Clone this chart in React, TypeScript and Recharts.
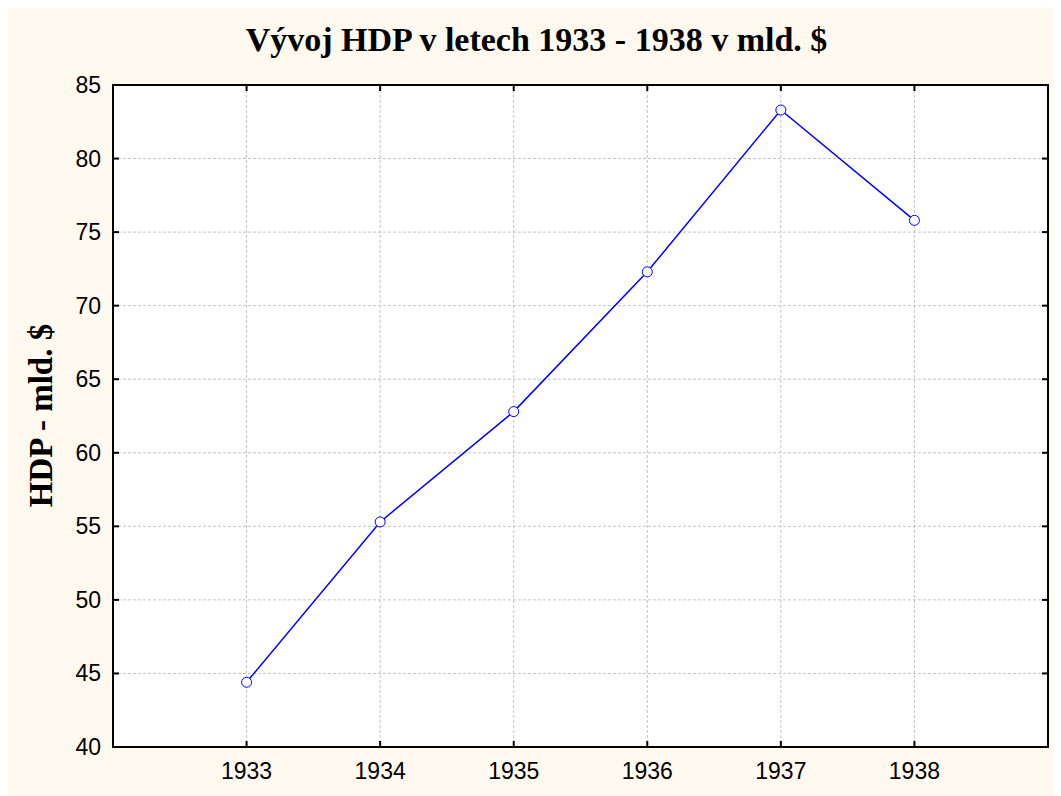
import React from 'react';
import {
  CartesianGrid,
  Line,
  LineChart,
  ReferenceArea,
  XAxis,
  YAxis,
} from 'recharts';

// roky a HDP v mld. $
const years = [1933, 1934, 1935, 1936, 1937, 1938];
const gdp = [44.4, 55.3, 62.8, 72.3, 83.3, 75.8];
const yTicks = [40, 45, 50, 55, 60, 65, 70, 75, 80, 85];
const xDomain = [1932, 1939];
const yDomain = [40, 85];

const chartTitle = 'Vývoj HDP v letech 1933 - 1938 v mld. $';
const yTitle = 'HDP - mld. $';

const data = years.map((year, i) => ({ year, gdp: gdp[i] }));

const W = 1047;
const H = 788;
const M = { top: 77, right: 7, bottom: 0, left: 0 };
const PLOT_TOP = M.top;
const PLOT_RIGHT = W - M.right;
const TICK = 6;

const sans = '"Liberation Sans", Arial, sans-serif';
const serif = '"Liberation Serif", "Times New Roman", serif';
const axisStyle = { stroke: '#000', strokeWidth: 2 };

// popisek na ose x + zrcadlová značka nahoře
const XTick = (props: any) => {
  const { x, y, payload } = props;
  return (
    <g>
      <line x1={x} x2={x} y1={PLOT_TOP} y2={PLOT_TOP + TICK} stroke='#000' strokeWidth={2} />
      <text x={x} y={y + 16} textAnchor='middle' fontFamily={sans} fontSize={23} fill='#000'>
        {payload.value}
      </text>
    </g>
  );
};

// popisek na ose y + zrcadlová značka vpravo
const YTick = (props: any) => {
  const { x, y, payload } = props;
  return (
    <g>
      <line x1={PLOT_RIGHT - TICK} x2={PLOT_RIGHT} y1={y} y2={y} stroke='#000' strokeWidth={2} />
      <text x={x} y={y + 8} textAnchor='end' fontFamily={sans} fontSize={23} fill='#000'>
        {payload.value}
      </text>
    </g>
  );
};

const App = () => {
  return (
    <div style={{ position: 'relative', width: W, height: H, background: '#FFF9EF' }}>
      <div
        style={{
          position: 'absolute',
          left: 0,
          top: 15,
          width: 1057,
          textAlign: 'center',
          fontFamily: serif,
          fontWeight: 'bold',
          fontSize: 34,
          lineHeight: '34px',
          whiteSpace: 'nowrap',
          zIndex: 1,
        }}
      >
        {chartTitle}
      </div>
      <div
        style={{
          position: 'absolute',
          left: -117,
          top: 390.5,
          width: 300,
          height: 33,
          textAlign: 'center',
          fontFamily: serif,
          fontWeight: 'bold',
          fontSize: 33,
          lineHeight: '33px',
          whiteSpace: 'nowrap',
          transform: 'rotate(-90deg)',
          transformOrigin: 'center',
          zIndex: 1,
        }}
      >
        {yTitle}
      </div>
      <LineChart width={W} height={H} data={data} margin={M}>
        <CartesianGrid
          stroke='#c4c4c4'
          strokeDasharray='3 2'
          fill='#ffffff'
          fillOpacity={1}
        />
        <XAxis
          dataKey='year'
          type='number'
          domain={xDomain}
          ticks={years}
          allowDataOverflow
          height={49}
          tick={<XTick />}
          tickSize={-TICK}
          tickMargin={22}
          axisLine={axisStyle}
          tickLine={axisStyle}
        />
        <YAxis
          domain={yDomain}
          ticks={yTicks}
          width={105}
          tick={<YTick />}
          tickSize={-TICK}
          tickMargin={18}
          axisLine={axisStyle}
          tickLine={axisStyle}
        />
        {/* rámeček kolem plochy grafu */}
        <ReferenceArea
          x1={xDomain[0]}
          x2={xDomain[1]}
          y1={yDomain[0]}
          y2={yDomain[1]}
          fill='#ffffff'
          fillOpacity={0}
          stroke='#000'
          strokeWidth={2}
          ifOverflow='visible'
        />
        <Line
          type='linear'
          dataKey='gdp'
          stroke='#0000ff'
          strokeWidth={1.5}
          dot={{ r: 5, fill: '#ffffff', stroke: '#0000ff', strokeWidth: 1 }}
          isAnimationActive={false}
        />
      </LineChart>
    </div>
  );
};

export default App;
